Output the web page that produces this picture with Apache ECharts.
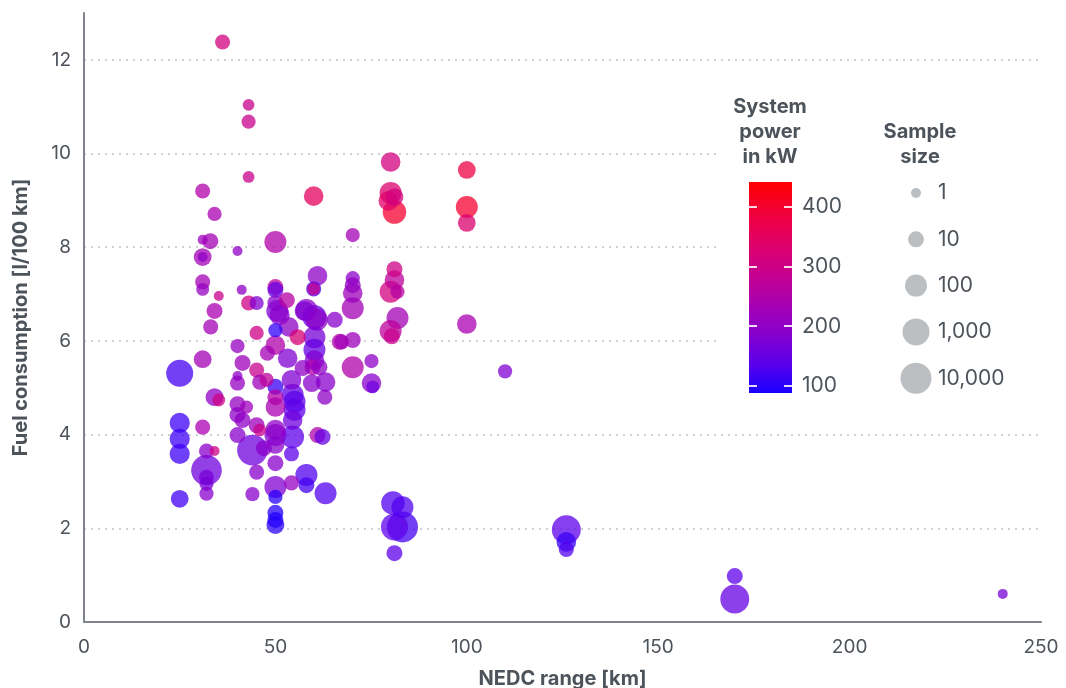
<!DOCTYPE html>
<html><head><meta charset="utf-8">
<script src="https://cdn.jsdelivr.net/npm/echarts@6/dist/echarts.min.js"></script>
<style>html,body{margin:0;padding:0;background:#fff}#c{width:1066px;height:688px}</style>
</head><body><div id="c"></div>
<script>
// [NEDC range km, fuel consumption l/100km, system power kW, sample size]
const points = [
  [25, 5.31, 120, 1000], [25, 4.25, 115, 50], [25, 3.91, 115, 50], [25, 3.59, 115, 50], [25, 2.63, 118, 20],
  [31, 9.20, 250, 7], [34.1, 8.71, 240, 5], [31, 8.16, 220, 1], [33, 8.13, 230, 10], [31, 7.79, 230, 20], [31, 7.79, 200, 1],
  [31, 7.26, 230, 7], [31, 7.10, 210, 3], [35.2, 6.96, 290, 1], [34.1, 6.64, 240, 10], [33.1, 6.30, 230, 7], [31, 5.61, 230, 20],
  [34.1, 4.80, 200, 20], [35.2, 4.74, 300, 3], [31, 4.16, 240, 7], [32, 3.65, 190, 7], [34.1, 3.65, 300, 1],
  [32, 3.24, 160, 8000], [32, 3.09, 170, 7], [32, 2.95, 170, 5], [32, 2.74, 190, 5], [36.2, 12.38, 310, 7],
  [43, 11.04, 290, 2], [43, 10.68, 290, 5], [43, 9.50, 290, 2], [40.1, 7.92, 200, 1], [41.2, 7.09, 200, 1],
  [43, 6.81, 300, 7], [45.1, 6.81, 180, 5], [40.1, 5.89, 210, 5], [41.4, 5.53, 220, 10], [40.1, 5.25, 200, 1],
  [40.1, 5.10, 210, 7], [40.1, 4.65, 210, 10], [40.1, 4.42, 200, 10], [41.4, 4.31, 200, 10], [40.1, 3.99, 190, 10],
  [45.1, 6.17, 300, 5], [45.1, 5.38, 290, 7], [47.9, 5.74, 230, 7], [45.9, 5.12, 220, 7], [47.7, 5.17, 270, 5],
  [45.1, 4.20, 220, 10], [45.9, 4.10, 290, 3], [44, 3.67, 160, 8000], [47, 3.71, 190, 10], [45.1, 3.20, 190, 7],
  [44, 2.73, 190, 5], [42.5, 4.59, 220, 3],
  [50, 8.11, 250, 100], [50, 7.15, 270, 10], [50, 7.09, 150, 10], [50, 6.81, 190, 10], [50.5, 6.64, 180, 100],
  [50, 6.23, 105, 5], [51.1, 6.55, 190, 50], [50, 5.91, 250, 40], [50, 5.02, 110, 10], [50, 4.80, 250, 10],
  [50, 4.59, 240, 40], [50, 3.99, 180, 100], [50, 3.78, 190, 20], [50, 4.10, 200, 50], [50, 3.39, 190, 10],
  [50, 2.88, 180, 100], [50, 2.67, 100, 5], [50, 2.33, 95, 10], [50, 2.18, 95, 10], [50, 2.07, 100, 20],
  [53, 6.87, 260, 10], [55.8, 6.08, 320, 10], [53.2, 5.63, 180, 40], [54.2, 5.17, 180, 40], [54.5, 4.85, 145, 100],
  [55, 4.70, 140, 100], [55, 4.53, 140, 100], [54.5, 4.31, 160, 40], [54.5, 3.95, 140, 150], [54.2, 3.59, 140, 7],
  [54.2, 2.97, 210, 7], [53.5, 6.30, 200, 40],
  [58.1, 6.66, 190, 100], [57.6, 6.64, 180, 40], [61, 7.39, 200, 40], [60, 7.11, 120, 7], [60, 7.11, 290, 3],
  [60, 9.09, 350, 40], [60.2, 6.51, 150, 250], [60.8, 6.45, 200, 100], [60.2, 6.08, 170, 100], [60.2, 5.81, 150, 100],
  [60.2, 5.59, 180, 40], [59.7, 5.44, 250, 10], [61.5, 5.44, 200, 10], [57.1, 5.42, 200, 10], [59.5, 5.10, 190, 20],
  [63.1, 5.12, 190, 40], [62.9, 4.80, 200, 7], [61, 3.99, 250, 10], [62.3, 3.95, 150, 10], [58.1, 3.14, 130, 100],
  [58.1, 2.92, 120, 10], [63.1, 2.75, 130, 100], [65.5, 6.45, 190, 10], [66.8, 5.98, 250, 10], [67.3, 5.98, 230, 7],
  [70.2, 8.26, 230, 5], [70.2, 7.34, 200, 5], [70.2, 7.19, 210, 10], [70.2, 7.02, 220, 40], [70.2, 6.70, 230, 100],
  [70.2, 6.02, 220, 10], [70.2, 5.44, 250, 100], [75.1, 5.57, 200, 5], [75.1, 5.10, 190, 40], [75.4, 5.02, 160, 3],
  [80.1, 9.82, 310, 40], [80.1, 9.16, 330, 100], [81.1, 9.07, 310, 20], [79.5, 8.99, 340, 40], [81.1, 8.75, 400, 200],
  [81.1, 7.53, 300, 10], [81.1, 7.30, 270, 40], [80.1, 7.05, 310, 100], [81.9, 7.05, 260, 5], [81.9, 6.49, 230, 100],
  [80.1, 6.21, 270, 100], [80.4, 6.10, 290, 10], [80.7, 2.54, 130, 200], [83.2, 2.45, 130, 100], [81.1, 2.03, 140, 1000],
  [83.2, 2.03, 120, 10000], [81.1, 1.47, 140, 10],
  [100, 9.65, 380, 20], [100, 8.86, 400, 100], [100, 8.52, 330, 20], [100, 6.36, 240, 40],
  [110, 5.35, 180, 5], [126, 1.97, 140, 3000], [126, 1.71, 110, 40], [126, 1.55, 130, 7],
  [170, 0.98, 140, 10], [170, 0.49, 150, 3000], [240, 0.60, 170, 1]
];
const xTicks = [0, 50, 100, 150, 200, 250];
const yTicks = [0, 2, 4, 6, 8, 10, 12];
const powerRange = [88, 442];
const powerTicks = [100, 200, 300, 400];
const sampleTicks = [1, 10, 100, 1000, 10000];
const sampleLabels = ['1', '10', '100', '1,000', '10,000'];

// styles
const FONT = 'Inter, "Open Sans", sans-serif';
const TEXT = '#4d535a';
const AXIS = '#7f848a';
const powerColors = ['#1a00ff', '#5c00ea', '#8800cc', '#aa00b0', '#c8008c', '#e00066', '#f2003a', '#ff0000'];
const decadeDiam = [10, 16, 22, 27, 31];
function sizeFor(n) {
  const l = Math.max(0, Math.min(4, Math.log10(n)));
  const i = Math.min(3, Math.floor(l));
  const t = l - i;
  return decadeDiam[i] + (decadeDiam[i + 1] - decadeDiam[i]) * t;
}

const sorted = points.slice().sort((a, b) => b[3] - a[3]);
const chart = echarts.init(document.getElementById('c'), null, {renderer: 'canvas'});

const gradStops = powerColors.map((c, i) => ({offset: i / (powerColors.length - 1), color: c}));

const legendGraphics = [
  {type: 'rect', z: 1, shape: {x: 716, y: 86, width: 325, height: 320}, style: {fill: '#fff'}},
  {type: 'text', z: 3, x: 770, y: 132, style: {text: 'System\npower\nin kW', fill: TEXT, fontFamily: FONT, fontSize: 20, fontWeight: 'bold', lineHeight: 25, align: 'center', verticalAlign: 'middle'}},
  {type: 'text', z: 3, x: 920, y: 144.5, style: {text: 'Sample\nsize', fill: TEXT, fontFamily: FONT, fontSize: 20, fontWeight: 'bold', lineHeight: 25, align: 'center', verticalAlign: 'middle'}}
];
sampleTicks.forEach((n, i) => {
  const cy = 193 + i * 46.3;
  legendGraphics.push({type: 'circle', z: 3, shape: {cx: 916, cy: cy, r: sizeFor(n) / 2}, style: {fill: '#bcbfc2'}});
  legendGraphics.push({type: 'text', z: 3, x: 938, y: cy, style: {text: sampleLabels[i], fill: TEXT, fontFamily: FONT, fontSize: 21, align: 'left', verticalAlign: 'middle'}});
});

const option = {
  backgroundColor: '#fff',
  textStyle: {fontFamily: FONT},
  animation: false,
  grid: [
    {left: 84, right: 25, top: 13, bottom: 66, outerBoundsMode: 'none'},
    {left: 749, top: 182, width: 43, height: 211, outerBoundsMode: 'none'}
  ],
  xAxis: [
    {type: 'value', gridIndex: 0, min: xTicks[0], max: xTicks[xTicks.length - 1], interval: 50,
     axisLine: {show: true, lineStyle: {color: AXIS, width: 2}}, axisTick: {show: false}, splitLine: {show: false},
     axisLabel: {fontSize: 19, color: TEXT, margin: 16, fontFamily: FONT},
     name: 'NEDC range [km]', nameLocation: 'middle', nameGap: 47,
     nameTextStyle: {fontSize: 20, fontWeight: 'bold', color: TEXT, fontFamily: FONT}},
    {type: 'category', gridIndex: 1, data: ['p'], show: false}
  ],
  yAxis: [
    {type: 'value', gridIndex: 0, min: 0, max: 13, interval: 2,
     axisLine: {show: true, lineStyle: {color: AXIS, width: 2}}, axisTick: {show: false},
     axisLabel: {fontSize: 19, color: TEXT, margin: 13, fontFamily: FONT, showMaxLabel: false},
     splitLine: {show: true, showMaxLine: false, lineStyle: {color: '#cfd1d3', width: 2, type: [2, 5]}},
     name: 'Fuel consumption [l/100 km]', nameLocation: 'middle', nameGap: 53, nameRotate: 90,
     nameTextStyle: {fontSize: 20, fontWeight: 'bold', color: TEXT, fontFamily: FONT}},
    {type: 'value', gridIndex: 1, min: powerRange[0], max: powerRange[1], position: 'right', z: 5,
     axisLine: {show: false}, splitLine: {show: false},
     axisTick: {show: true, inside: true, length: 8, customValues: powerTicks, lineStyle: {color: 'rgba(255,255,255,0.85)', width: 2}},
     axisLabel: {customValues: powerTicks, fontSize: 21, color: TEXT, margin: 10, fontFamily: FONT}},
    {type: 'value', gridIndex: 1, min: powerRange[0], max: powerRange[1], position: 'left', z: 5,
     axisLine: {show: false}, splitLine: {show: false},
     axisTick: {show: true, inside: true, length: 8, customValues: powerTicks, lineStyle: {color: 'rgba(255,255,255,0.85)', width: 2}},
     axisLabel: {show: false}}
  ],
  visualMap: {
    type: 'continuous', show: false, dimension: 2, seriesIndex: 0,
    min: powerRange[0], max: powerRange[1], inRange: {color: powerColors}
  },
  graphic: legendGraphics,
  series: [
    {type: 'scatter', xAxisIndex: 0, yAxisIndex: 0, data: sorted,
     symbolSize: v => sizeFor(v[3]), itemStyle: {opacity: 0.75}, z: 2},
    {type: 'bar', xAxisIndex: 1, yAxisIndex: 1, stack: 'cb', barWidth: '100%', silent: true,
     data: [powerRange[0]], itemStyle: {color: 'rgba(0,0,0,0)'}},
    {type: 'bar', xAxisIndex: 1, yAxisIndex: 1, stack: 'cb', barWidth: '100%', silent: true,
     data: [powerRange[1] - powerRange[0]],
     itemStyle: {color: new echarts.graphic.LinearGradient(0, 1, 0, 0, gradStops)}}
  ]
};
chart.setOption(option);
</script></body></html>
